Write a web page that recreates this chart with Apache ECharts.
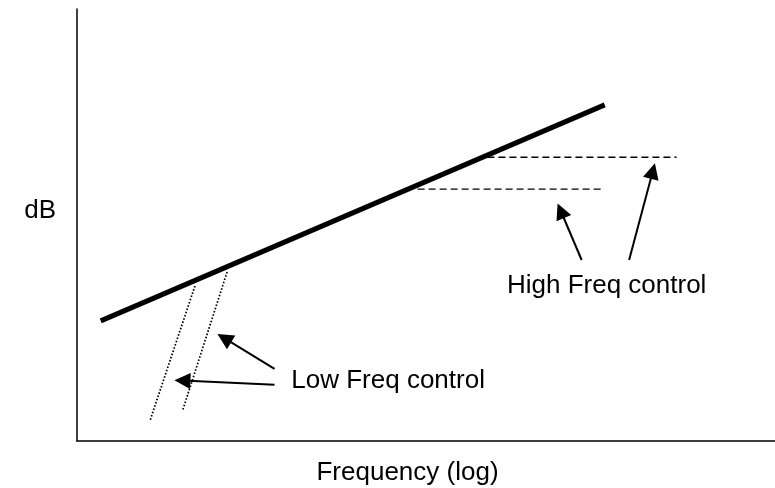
<!DOCTYPE html>
<html>
<head>
<meta charset="utf-8">
<script src="https://cdn.jsdelivr.net/npm/echarts@6/dist/echarts.min.js"></script>
<style>
html,body{margin:0;padding:0;background:#fff;}
#chart{width:775px;height:488px;}
</style>
</head>
<body>
<div id="chart"></div>
<script>
// Schematic values (arbitrary units: x 0-100 = log frequency, y 0-100 = dB)
const xAxisName = 'Frequency (log)';
const yAxisName = 'dB';
const responseLine = [[3.4, 27.8], [75.6, 77.8]];
const highLevelUpper = [[58.8, 65.7], [85.9, 65.7]];
const highLevelLower = [[48.8, 58.3], [75.3, 58.3]];
const lowSlopeA = [[16.9, 35.9], [10.5, 4.9]];
const lowSlopeB = [[21.5, 39.1], [15.1, 6.9]];
const lowArrows = [
  [[28.3, 13.0], [15.1, 14.0]],
  [[28.3, 16.7], [21.1, 23.8]]
];
const highArrows = [
  [[72.3, 41.9], [69.3, 53.3]],
  [[79.1, 41.9], [82.5, 62.5]]
];
const labelNames = ['High Freq control', 'Low Freq control'];
const labelPoints = [[61.6, 36.0], [30.7, 14.0]];

const FONT = 'Liberation Sans, Arial, sans-serif';
const chart = echarts.init(document.getElementById('chart'), null, {renderer: 'canvas'});

function plainLine(data, style) {
  return {
    type: 'line', data: data, symbol: 'none', silent: true, animation: false,
    lineStyle: Object.assign({color: '#000', opacity: 1}, style)
  };
}

const option = {
  animation: false,
  backgroundColor: '#fff',
  grid: {left: 77, right: 0, top: 9, bottom: 47, containLabel: false, outerBoundsMode: 'none'},
  xAxis: {
    type: 'value', min: 0, max: 100,
    name: xAxisName, nameLocation: 'middle', nameGap: 19,
    nameTextStyle: {fontFamily: FONT, fontSize: 26, color: '#000', padding: [0, 37, 0, 0]},
    axisLine: {show: true, lineStyle: {color: '#000', width: 1.5}},
    axisTick: {show: false}, axisLabel: {show: false}, splitLine: {show: false}
  },
  yAxis: {
    type: 'value', min: 0, max: 100,
    name: yAxisName, nameLocation: 'middle', nameRotate: 0, nameGap: 21,
    nameTextStyle: {fontFamily: FONT, fontSize: 26, color: '#000', verticalAlign: 'bottom', padding: [0, 0, 1, 0]},
    axisLine: {show: true, lineStyle: {color: '#000', width: 1.5}},
    axisTick: {show: false}, axisLabel: {show: false}, splitLine: {show: false}
  },
  series: [
    plainLine(responseLine, {width: 5}),
    plainLine(highLevelUpper, {width: 1.4, type: [7, 4]}),
    plainLine(highLevelLower, {width: 1.4, type: [7, 4]}),
    plainLine(lowSlopeA, {width: 1.7, type: [1.6, 1.8]}),
    plainLine(lowSlopeB, {width: 1.7, type: [1.6, 1.8]}),
    {
      type: 'lines', coordinateSystem: 'cartesian2d', silent: true, animation: false,
      symbol: ['none', 'triangle'], symbolSize: [12, 16],
      lineStyle: {color: '#000', width: 2, opacity: 1},
      data: lowArrows.concat(highArrows).map(c => ({coords: c}))
    },
    {
      type: 'scatter', silent: true, symbolSize: 0, animation: false,
      itemStyle: {opacity: 1, color: '#000'},
      data: labelPoints.map((p, i) => ({name: labelNames[i], value: p})),
      label: {
        show: true, position: 'right', distance: 0, opacity: 1,
        formatter: p => p.name,
        fontFamily: FONT, fontSize: 26, color: '#000', textBorderWidth: 0
      }
    }
  ]
};
chart.setOption(option);
</script>
</body>
</html>
